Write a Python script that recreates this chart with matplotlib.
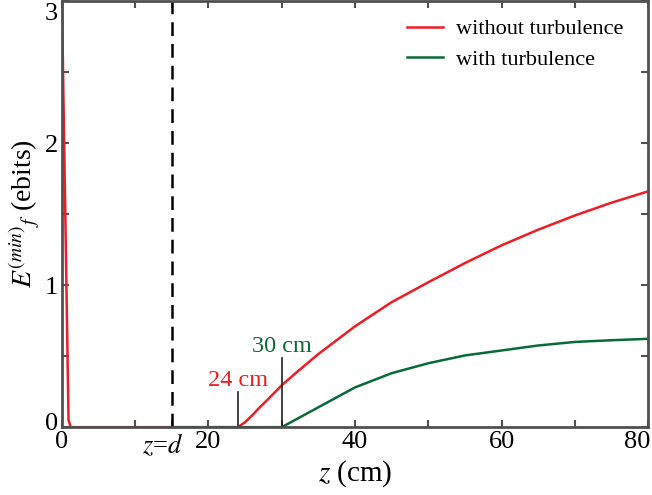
import matplotlib
matplotlib.use('Agg')
import matplotlib.pyplot as plt
import matplotlib.transforms as mtransforms

# datos
z_sin = [0, 0.9, 1.2, 24, 25, 26, 27, 28, 30, 32, 35, 40, 45, 50, 55, 60, 65, 70, 75, 80]
e_sin = [3.0, 0.05, 0, 0, 0.035, 0.085, 0.14, 0.19, 0.295, 0.385, 0.515, 0.71,
         0.88, 1.02, 1.155, 1.28, 1.39, 1.49, 1.58, 1.66]

z_con = [15, 30, 35, 40, 45, 50, 55, 60, 65, 70, 75, 80]
e_con = [0, 0, 0.14, 0.28, 0.38, 0.45, 0.505, 0.54, 0.575, 0.60, 0.612, 0.622]

z_d = 15
marcas_z = [24, 30]
marcas_alto = [0.25, 0.49]
marcas_texto = ['24 cm', '30 cm']

rojo = '#ee1c25'
verde = '#0a6a38'
gris = '#505050'

plt.rcParams['font.family'] = ['Liberation Serif', 'DejaVu Serif']
plt.rcParams['mathtext.fontset'] = 'stix'

fig = plt.figure(figsize=(6.52, 4.95), dpi=100)
ax = fig.add_axes([0.095, 0.137, 0.899, 0.861])

ax.plot(z_sin, e_sin, color=rojo, lw=1.8, label='without turbulence')
ax.plot(z_con, e_con, color=verde, lw=1.8, label='with turbulence')
ax.axvline(z_d, color='black', lw=1.8, ls=(0, (5.5, 3.2)))

colores = [rojo, verde]
for zm, h, txt, c in zip(marcas_z, marcas_alto, marcas_texto, colores):
    ax.plot([zm, zm], [0, h], color='#222222', lw=1.2)
    ax.text(zm, h + 0.005, txt, color=c, fontsize=17.5, ha='center', va='bottom')

ax.set_xlim(0, 80)
ax.set_ylim(0, 3)
ax.set_xticks([0, 15, 20, 40, 60, 80])
ax.set_xticklabels(['0', '$z$=$d$', '20', '40', '60', '80'])
ax.set_xticks([10, 30, 50, 70], minor=True)
ax.set_yticks([0, 1, 2, 3])
ax.set_yticks([0.5, 1.5, 2.5], minor=True)
ax.tick_params(which='both', direction='in', top=True, right=True,
               length=5, width=1.5, color=gris, labelsize=19, pad=3)
for s in ax.spines.values():
    s.set_color(gris)
    s.set_linewidth(2)

# correr algunas etiquetas de marcas
def correr(etq, dx, dy):
    etq.set_transform(etq.get_transform() +
                      mtransforms.ScaledTranslation(dx, dy, fig.dpi_scale_trans))

xl = ax.get_xticklabels()
correr(xl[-1], -0.11, 0)
correr(xl[1], -0.09, 0)
yl = ax.get_yticklabels()
correr(yl[-1], 0, -0.11)
correr(yl[0], 0, 0.06)

ax.set_xlabel('$z$ (cm)', fontsize=21, labelpad=0)
ax.set_ylabel('$E^{(min)}{}_{f}$ (ebits)', fontsize=20, labelpad=2)

ax.legend(loc='upper right', bbox_to_anchor=(0.988, 1.0), frameon=False,
          fontsize=16, handlelength=1.6, handletextpad=0.6,
          borderaxespad=0.4, labelspacing=0.45)

fig.savefig('out.png', dpi=100)
